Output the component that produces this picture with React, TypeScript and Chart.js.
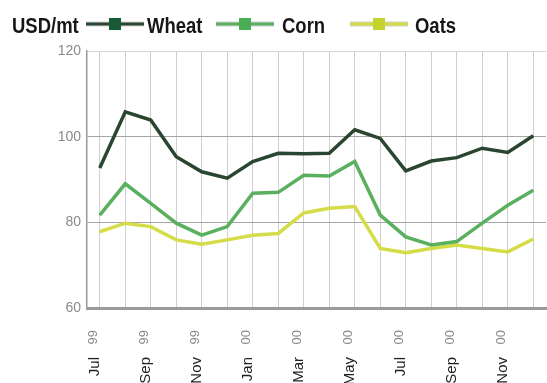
import React, { useEffect, useRef } from 'react';
import { Chart, registerables } from 'chart.js';

Chart.register(...registerables);

// ---- data ----
const months = ['Jul', 'Aug', 'Sep', 'Oct', 'Nov', 'Dec', 'Jan', 'Feb', 'Mar', 'Apr', 'May', 'Jun', 'Jul', 'Aug', 'Sep', 'Oct', 'Nov', 'Dec'];
const years = ['99', '99', '99', '99', '99', '99', '00', '00', '00', '00', '00', '00', '00', '00', '00', '00', '00', '00'];
const categories = months.map((m, i) => `${m} ${years[i]}`);

const wheat = [92.7, 105.8, 103.9, 95.3, 91.8, 90.3, 94.2, 96.1, 96.0, 96.1, 101.6, 99.6, 92.0, 94.3, 95.1, 97.3, 96.3, 100.2];
const corn = [81.7, 89.0, 84.4, 79.8, 77.0, 79.0, 86.8, 87.0, 91.0, 90.8, 94.2, 81.7, 76.6, 74.7, 75.5, 79.8, 84.0, 87.5];
const oats = [77.8, 79.8, 79.0, 75.9, 74.9, 75.9, 77.0, 77.4, 82.2, 83.3, 83.7, 73.9, 72.9, 73.9, 74.7, 73.9, 73.1, 76.1];

const seriesNames = ['Wheat', 'Corn', 'Oats'];
const unitLabel = 'USD/mt';
const yMin = 60;
const yMax = 120;
const yStep = 20;

// ---- styles ----
const lineColors = ['#2a4631', '#5bb060', '#d4dc48'];
const markerColors = ['#1b5a36', '#4cae52', '#c6d22c'];
const legendLineX = [86, 216, 350];
const legendTextX = [147, 282, 415];
const TEXT_SQUEEZE = 0.84;

const REGULAR = "'Liberation Sans', Arial, sans-serif";

function squeezedText(ctx: CanvasRenderingContext2D, text: string, x: number, y: number) {
  ctx.save();
  ctx.translate(x, y);
  ctx.scale(TEXT_SQUEEZE, 1);
  ctx.fillText(text, 0, 0);
  ctx.restore();
}

const headerPlugin = {
  id: 'header',
  afterDraw(chart: any) {
    const ctx = chart.ctx as CanvasRenderingContext2D;
    ctx.save();
    ctx.font = `bold 22px ${REGULAR}`;
    ctx.fillStyle = '#161616';
    ctx.textBaseline = 'alphabetic';
    ctx.textAlign = 'left';
    squeezedText(ctx, unitLabel, 12, 33);
    chart.data.datasets.forEach((ds: any, i: number) => {
      const x0 = legendLineX[i];
      const y = 24;
      ctx.lineCap = 'butt';
      ctx.strokeStyle = 'rgba(120,120,120,0.35)';
      ctx.lineWidth = 5;
      ctx.beginPath();
      ctx.moveTo(x0, y);
      ctx.lineTo(x0 + 58, y);
      ctx.stroke();
      ctx.strokeStyle = ds.borderColor;
      ctx.lineWidth = 3;
      ctx.beginPath();
      ctx.moveTo(x0, y);
      ctx.lineTo(x0 + 58, y);
      ctx.stroke();
      ctx.fillStyle = markerColors[i];
      ctx.fillRect(x0 + 29 - 6, y - 6, 12, 12);
      ctx.fillStyle = '#161616';
      squeezedText(ctx, ds.label, legendTextX[i], 33);
    });
    ctx.restore();
  },
};

const fitX = (h: number) => (s: any) => {
  s.height = h;
  s.paddingLeft = 0;
  s.paddingRight = 0;
};

export default function App() {
  const ref = useRef<HTMLCanvasElement | null>(null);

  useEffect(() => {
    if (!ref.current) return;
    const chart = new Chart(ref.current, {
      type: 'line',
      data: {
        labels: categories,
        datasets: [wheat, corn, oats].map((d, i) => ({
          label: seriesNames[i],
          data: d,
          borderColor: lineColors[i],
          backgroundColor: lineColors[i],
          borderWidth: 3.5,
          pointRadius: 0,
          tension: 0,
          xAxisID: 'x',
          yAxisID: 'y',
        })),
      },
      options: {
        animation: false,
        responsive: false,
        layout: { padding: { top: 51, right: 1, left: 0, bottom: 0 } },
        plugins: {
          legend: { display: false },
          tooltip: { enabled: false },
        },
        scales: {
          x: {
            type: 'category',
            offset: true,
            weight: 0,
            grid: { offset: false, color: '#cfcfcf', lineWidth: 1, drawTicks: false },
            border: { color: '#9a9a9a', width: 3 },
            ticks: {
              autoSkip: false,
              minRotation: 90,
              maxRotation: 90,
              padding: 22,
              labelOffset: -6,
              color: '#8a8a8a',
              font: { family: REGULAR, size: 13 },
              callback: (_v: any, i: number) => (i % 2 === 0 ? years[i] : ''),
            },
            afterFit: fitX(45),
          },
          x2: {
            type: 'category',
            position: 'bottom',
            labels: categories,
            offset: true,
            weight: 1,
            grid: { display: false, drawTicks: false },
            border: { display: false },
            ticks: {
              autoSkip: false,
              minRotation: 90,
              maxRotation: 90,
              padding: 4,
              labelOffset: -5,
              color: '#222222',
              font: { family: REGULAR, size: 15 },
              callback: (_v: any, i: number) => (i % 2 === 0 ? months[i] : ''),
            },
            afterFit: fitX(30),
          },
          y: {
            min: yMin,
            max: yMax,
            grid: {
              drawTicks: false,
              color: (c: any) => (c.tick && c.tick.value === yMax ? '#d6d6d6' : '#a6a6a6'),
              lineWidth: 1,
            },
            border: { color: '#9a9a9a', width: 1.5 },
            ticks: {
              stepSize: yStep,
              padding: 6,
              color: '#8a8a8a',
              font: { family: REGULAR, size: 14 },
            },
            afterFit: (s: any) => { s.width = 87; },
          },
        },
      },
      plugins: [headerPlugin],
    } as any);
    return () => chart.destroy();
  }, []);

  return (
    <div style={{ position: 'fixed', left: 0, top: 0, width: 547, height: 383, background: '#ffffff' }}>
      <canvas ref={ref} width={547} height={383} style={{ display: 'block' }} />
    </div>
  );
}
